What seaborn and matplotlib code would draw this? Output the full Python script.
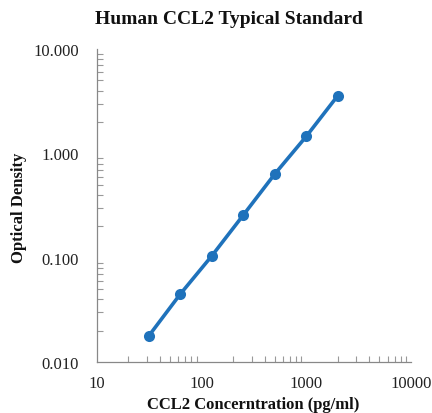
import pandas as pd
import matplotlib
matplotlib.use("Agg")
import matplotlib.pyplot as plt
import matplotlib.ticker as mticker
import seaborn as sns

sns.set_theme(style="white")
plt.rcParams['font.family'] = ['Liberation Serif', 'DejaVu Serif']

# Dados da curva padrão
concentracao = [31.25, 62.5, 125, 250, 500, 1000, 2000]
densidade = [0.0178, 0.0448, 0.104, 0.256, 0.634, 1.455, 3.57]
df = pd.DataFrame({'conc': concentracao, 'od': densidade})

x_ticks = [10, 100, 1000, 10000]
x_labels = ['10', '100', '1000', '10000']
y_ticks = [0.01, 0.1, 1, 10]
y_labels = ['0.010', '0.100', '1.000', '10.000']

fig = plt.figure(figsize=(4.32, 4.14), dpi=100)
ax = fig.add_axes([0.2245, 0.123, 0.7265, 0.756])

sns.lineplot(data=df, x='conc', y='od', ax=ax, color='#1f72bb', linewidth=2.6,
             marker='o', markersize=8, markeredgewidth=0)

ax.set_xscale('log')
ax.set_yscale('log')
ax.set_xlim(10, 10000)
ax.set_ylim(0.01, 10)
ax.set_xticks(x_ticks)
ax.set_xticklabels(x_labels)
ax.set_yticks(y_ticks)
ax.set_yticklabels(y_labels)
ax.xaxis.set_minor_locator(mticker.LogLocator(base=10, subs=range(2, 10)))
ax.yaxis.set_minor_locator(mticker.LogLocator(base=10, subs=range(2, 10)))
ax.xaxis.set_minor_formatter(mticker.NullFormatter())
ax.yaxis.set_minor_formatter(mticker.NullFormatter())

ax.tick_params(axis='both', which='major', length=0, labelsize=12, colors='#222222')
ax.tick_params(axis='y', which='major', pad=13)
ax.tick_params(axis='x', which='major', pad=9)
ax.tick_params(axis='both', which='minor', direction='in', length=4, width=0.8, color='#999999')
ax.tick_params(axis='x', which='minor', bottom=True)
ax.tick_params(axis='y', which='minor', left=True)

for side in ['top', 'right']:
    ax.spines[side].set_visible(False)
for side in ['left', 'bottom']:
    ax.spines[side].set_color('#888888')
    ax.spines[side].set_linewidth(0.9)

ax.set_xlabel('')
ax.set_ylabel('')
fig.text(229 / 432, 1 - 20 / 414, 'Human CCL2 Typical Standard', fontsize=14,
         fontweight='bold', ha='center', va='center', color='#111111')
fig.text(253 / 432, 1 - 405 / 414, 'CCL2 Concerntration (pg/ml)', fontsize=12,
         fontweight='bold', ha='center', va='center', color='#111111')
fig.text(19 / 432, 1 - 208 / 414, 'Optical Density', fontsize=12, rotation=90,
         fontweight='bold', ha='center', va='center', color='#111111')

plt.savefig('out.png', dpi=100)
